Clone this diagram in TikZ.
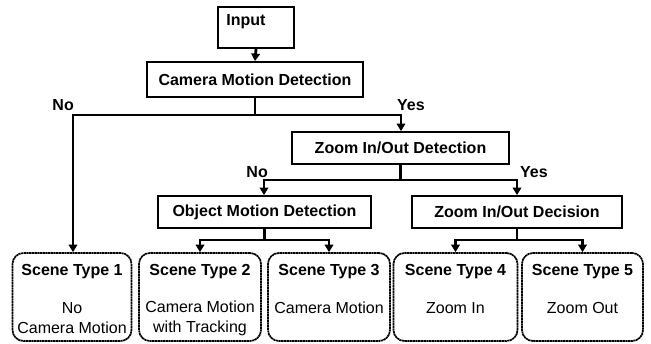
\documentclass[tikz,border=0pt]{standalone}
\usepackage{fontspec}
\setmainfont{Liberation Sans}
\usetikzlibrary{arrows.meta}
\begin{document}
\begin{tikzpicture}[x=1pt,y=-1pt,
  box/.style={draw=black,line width=1.8pt,inner sep=0pt,font=\fontsize{16}{18}\selectfont\bfseries},
  scenebox/.style={draw=black,line width=1.7pt,dash pattern=on 2.2pt off 0.5pt,rounded corners=11pt,inner sep=0pt,minimum height=88pt},
  conn/.style={line width=2.8pt},
  arr/.style={line width=2.8pt,-{Triangle[length=7.5pt,width=8.5pt]}},
  lbl/.style={font=\fontsize{16}{18}\selectfont\bfseries,inner sep=0pt},
  ttl/.style={font=\fontsize{16}{18}\selectfont\bfseries,inner sep=0pt},
  txt/.style={font=\fontsize{16}{20}\selectfont,inner sep=0pt,align=center},
]
\useasboundingbox (0,0) rectangle (651,343);

% boxes
\node[box,minimum width=76pt,minimum height=41pt] (input) at (256,27.5) {};
\node[lbl] (inputtxt) at (246,22) {Input};
\node[box,minimum width=216pt,minimum height=35pt] (cmd) at (255,79.5) {Camera Motion Detection};
\node[box,minimum width=217pt,minimum height=32pt] (ziod) at (400.5,148) {Zoom In/Out Detection};
\node[box,minimum width=213pt,minimum height=32pt] (omd) at (264.5,212) {Object Motion Detection};
\node[box,minimum width=210pt,minimum height=32pt] (zdec) at (517,212) {Zoom In/Out Decision};

\node[scenebox,minimum width=119pt] (s1) at (72,297) {};
\node[scenebox,minimum width=122pt] (s2) at (200,297) {};
\node[scenebox,minimum width=122pt] (s3) at (329,297) {};
\node[scenebox,minimum width=124pt] (s4) at (455.5,297) {};
\node[scenebox,minimum width=121pt] (s5) at (582.5,297) {};

% scene texts
\node[ttl] (t1) at (72,272) {Scene Type 1};
\node[ttl] (t2) at (200,272) {Scene Type 2};
\node[ttl] (t3) at (329,272) {Scene Type 3};
\node[ttl] (t4) at (455.5,272) {Scene Type 4};
\node[ttl] (t5) at (582.5,272) {Scene Type 5};
\node[txt] (d1) at (72,318) {No\\Camera Motion};
\node[txt] (d2) at (200,318) {Camera Motion\\with Tracking};
\node[txt] (d3) at (329,308) {Camera Motion};
\node[txt] (d4) at (455.5,308) {Zoom In};
\node[txt] (d5) at (582.5,308) {Zoom Out};

% junction coordinates
\coordinate (j1) at (255,115);
\coordinate (j1l) at (73,115);
\coordinate (j1r) at (401,115);
\coordinate (j2) at (400.5,180);
\coordinate (j2l) at (264,180);
\coordinate (j2r) at (517,180);
\coordinate (j3) at (264.5,240);
\coordinate (j3l) at (200,240);
\coordinate (j3r) at (329,240);
\coordinate (j4) at (517,240);
\coordinate (j4l) at (455.5,240);
\coordinate (j4r) at (582.5,240);

% connectors
\draw[arr] (input.south) -- (cmd.north);
\draw[conn] (cmd.south) -- (j1);
\draw[conn,line cap=rect] (j1l) -- (j1r);
\draw[arr] (j1l) -- (j1l |- s1.north);
\draw[arr] (j1r) -- (j1r |- ziod.north);

\draw[conn] (ziod.south) -- (j2);
\draw[conn,line cap=rect] (j2l) -- (j2r);
\draw[arr] (j2l) -- (j2l |- omd.north);
\draw[arr] (j2r) -- (zdec.north);

\draw[conn] (omd.south) -- (j3);
\draw[conn,line cap=rect] (j3l) -- (j3r);
\draw[arr] (j3l) -- (s2.north);
\draw[arr] (j3r) -- (s3.north);

\draw[conn] (zdec.south) -- (j4);
\draw[conn,line cap=rect] (j4l) -- (j4r);
\draw[arr] (j4l) -- (s4.north);
\draw[arr] (j4r) -- (s5.north);

% branch labels
\node[lbl,anchor=base east] (no1) at (74,110) {No};
\node[lbl,anchor=base west] (yes1) at (397,110) {Yes};
\node[lbl,anchor=base east] (no2) at (268,177) {No};
\node[lbl,anchor=base west] (yes2) at (520,177) {Yes};
\end{tikzpicture}
\end{document}
